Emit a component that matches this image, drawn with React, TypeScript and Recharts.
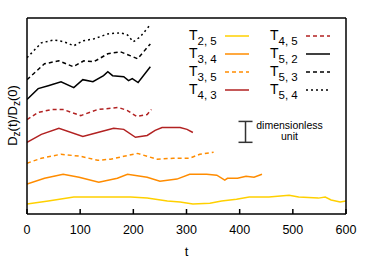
import React from 'react';
import { ComposedChart, Line, XAxis, YAxis, Scatter, ErrorBar, Customized } from 'recharts';

// time points (t) and D_z(t)/D_z(0) values (offset, dimensionless units)
const tT25 = [0, 40, 88, 120, 157, 195, 226, 264, 288, 312, 344, 366, 394, 418, 455, 493, 511, 548, 561, 572, 589, 600];
const vT25 = [0.48, 0.62, 0.81, 0.81, 0.81, 0.81, 0.76, 0.62, 0.57, 0.48, 0.52, 0.62, 0.71, 0.81, 0.81, 0.9, 0.81, 0.76, 0.81, 0.67, 0.57, 0.62];

const tT34 = [0, 33, 68, 98, 135, 170, 189, 226, 250, 282, 306, 338, 357, 372, 377, 396, 412, 427, 442];
const vT34 = [1.43, 1.71, 1.9, 1.76, 1.52, 1.71, 1.9, 1.76, 1.57, 1.67, 1.9, 1.9, 1.86, 1.62, 1.71, 1.71, 1.81, 1.76, 1.9];

const tT35 = [0, 27, 64, 101, 133, 157, 182, 208, 226, 245, 275, 306, 325, 351];
const vT35 = [2.43, 2.67, 2.86, 2.76, 2.57, 2.62, 2.76, 2.9, 2.76, 2.62, 2.67, 2.67, 2.86, 2.95];

const tT43 = [0, 27, 60, 105, 133, 163, 182, 204, 226, 241, 254, 288, 301, 312];
const vT43 = [3.43, 3.81, 4.1, 3.71, 3.9, 4.1, 4.05, 3.67, 3.76, 4.0, 4.14, 4.14, 4.05, 3.9];

const tT45 = [0, 21, 46, 68, 101, 133, 172, 189, 206, 226, 234];
const vT45 = [4.52, 4.86, 5.0, 5.0, 4.71, 5.0, 5.1, 4.95, 4.67, 4.76, 5.0];

const tT52 = [0, 21, 40, 64, 88, 105, 124, 144, 152, 161, 182, 191, 198, 209, 232];
const vT52 = [5.48, 6.0, 6.14, 6.33, 6.05, 6.43, 6.33, 6.62, 6.81, 6.62, 6.57, 6.38, 6.48, 6.29, 7.05];

const tT53 = [0, 33, 60, 87, 107, 126, 152, 176, 195, 208, 232];
const vT53 = [6.43, 7.19, 7.33, 7.05, 7.33, 7.29, 7.67, 7.76, 7.57, 7.43, 8.14];

const tT54 = [0, 27, 51, 70, 88, 105, 126, 152, 176, 189, 200, 213, 230];
const vT54 = [7.48, 8.19, 8.33, 8.24, 8.05, 8.29, 8.38, 8.62, 8.67, 8.57, 8.24, 8.48, 9.0];

const xTicks = [0, 100, 200, 300, 400, 500, 600];
const xDomain = [0, 600];
const yDomain = [0, 9.38];

// scale bar: one dimensionless unit
const scaleBar = [{ t: 411, v: 3.93, e: 0.5 }];

const seriesSubs = ['2, 5', '3, 4', '3, 5', '4, 3', '4, 5', '5, 2', '5, 3', '5, 4'];
const seriesT = [tT25, tT34, tT35, tT43, tT45, tT52, tT53, tT54];
const seriesV = [vT25, vT34, vT35, vT43, vT45, vT52, vT53, vT54];
const seriesColors = ['#ffd000', '#ff8c00', '#ff8c00', '#b22222', '#b22222', '#000000', '#000000', '#000000'];
const seriesDash = [undefined, undefined, '4 3', undefined, '4 3', undefined, '4 3', '2 3'];

const FONT = '"Liberation Sans", Arial, sans-serif';

const build = (ts: number[], vs: number[]) => ts.map((t, i) => ({ t, v: vs[i] }));

const Overlay = () => (
  <g fontFamily={FONT}>
    {seriesSubs.map((s, i) => {
      const col = Math.floor(i / 4);
      const row = i % 4;
      const x = col === 0 ? 189 : 270;
      const yb = 39.5 + row * 18;
      return (
        <g key={s}>
          <text x={x} y={yb} fontSize={14} fill="#000">
            T<tspan fontSize={11.5} dy={5.5}>{s}</tspan>
          </text>
          <line x1={x + 36} x2={x + 60} y1={yb - 3.5} y2={yb - 3.5} stroke={seriesColors[i]} strokeWidth={1.5} strokeDasharray={seriesDash[i]} />
        </g>
      );
    })}
    <text x={289.5} y={129} fontSize={10.5} textAnchor="middle" fill="#000">dimensionless</text>
    <text x={289.5} y={140} fontSize={10.5} textAnchor="middle" fill="#000">unit</text>
    <text x={0} y={0} transform="translate(16.5, 115.5) rotate(-90)" textAnchor="middle" fontSize={13} fill="#000">
      D<tspan fontSize={10} dy={3}>z</tspan><tspan dy={-3}>(t)/D</tspan><tspan fontSize={10} dy={3}>z</tspan><tspan dy={-3}>(0)</tspan>
    </text>
  </g>
);

export default function App() {
  return (
    <div style={{ position: 'absolute', left: 0, top: 0, background: '#fff' }}>
      <ComposedChart width={374} height={262} margin={{ top: 17, right: 27, bottom: 0, left: 26 }}>
        <XAxis
          dataKey="t"
          type="number"
          domain={xDomain}
          ticks={xTicks}
          allowDataOverflow
          height={48}
          tickSize={-5}
          tickMargin={16.5}
          stroke="#000"
          strokeWidth={1.5}
          tick={{ fill: '#000', fontSize: 12.5, fontFamily: FONT, stroke: 'none' }}
          label={{ value: 't', position: 'insideBottom', offset: 6, fill: '#000', fontSize: 13, fontFamily: FONT }}
        />
        <XAxis
          xAxisId="top"
          orientation="top"
          type="number"
          domain={xDomain}
          ticks={xTicks}
          height={1}
          tick={false}
          tickSize={-5}
          stroke="#000"
          strokeWidth={1.5}
        />
        <YAxis type="number" domain={yDomain} width={1} tick={false} tickLine={false} stroke="#000" strokeWidth={1.5} />
        <YAxis yAxisId="right" orientation="right" type="number" domain={yDomain} width={1} tick={false} tickLine={false} stroke="#000" strokeWidth={1.5} />
        {seriesSubs.map((s, i) => (
          <Line
            key={s}
            data={build(seriesT[i], seriesV[i])}
            dataKey="v"
            type="linear"
            stroke={seriesColors[i]}
            strokeWidth={1.5}
            strokeDasharray={seriesDash[i]}
            dot={false}
            isAnimationActive={false}
          />
        ))}
        <Scatter data={scaleBar} dataKey="v" shape={() => <g />} isAnimationActive={false}>
          <ErrorBar dataKey="e" direction="y" width={7} stroke="#333" strokeWidth={1.5} isAnimationActive={false} />
        </Scatter>
        <Customized component={Overlay} />
      </ComposedChart>
    </div>
  );
}
